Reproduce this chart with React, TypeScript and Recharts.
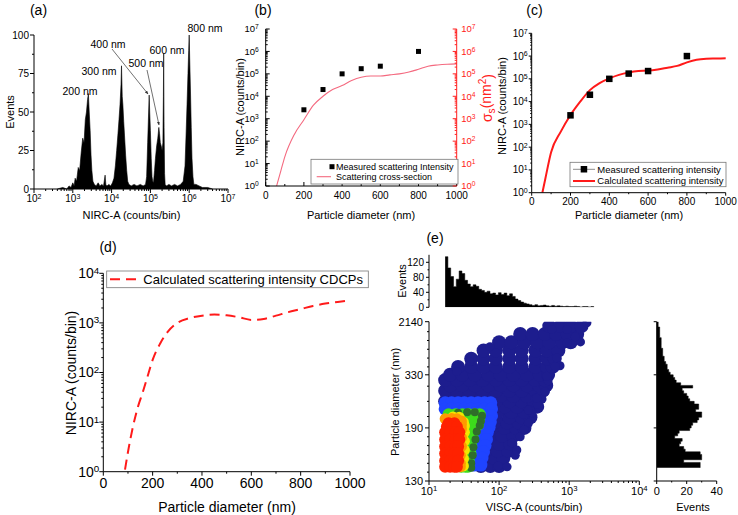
import React from 'react';
import { ComposedChart, Area, Line, Scatter, XAxis, YAxis } from 'recharts';

const FONT = '"Liberation Sans", Arial, Helvetica, sans-serif';

// (a) NIRC-A histogram of the size standards
const nircBins = [400, 550, 700, 800, 900, 1000, 1080, 1150, 1250, 1380, 1500, 1650, 1800, 1950, 2100, 2250, 2400, 2520, 2650, 2800, 2950, 3100, 3300, 3600, 4000, 4500, 5000, 5600, 6200, 6800, 7100, 7600, 8500, 9500, 10500, 11500, 12500, 13500, 14500, 15500, 16500, 17500, 18000, 18800, 19500, 20500, 21500, 23000, 24500, 26000, 28000, 32000, 38000, 45000, 55000, 65000, 75000, 80000, 85000, 90000, 93000, 96000, 100000, 105000, 110000, 115000, 120000, 128000, 135000, 145000, 155000, 165000, 172000, 180000, 190000, 200000, 210000, 216000, 220000, 225000, 232000, 240000, 260000, 300000, 350000, 420000, 500000, 600000, 700000, 780000, 830000, 880000, 930000, 970000, 1000000, 1030000, 1080000, 1130000, 1180000, 1250000, 1320000, 1500000, 1800000, 2200000, 3000000, 4000000];
const nircEvents = [0, 1, 0, 2, 1, 4, 2, 7, 5, 14, 12, 24, 33, 30, 45, 50, 58, 62, 50, 38, 22, 12, 5, 3, 2, 4, 2, 3, 2, 9, 3, 2, 3, 2, 4, 7, 15, 25, 35, 45, 55, 68, 80, 60, 55, 44, 35, 22, 12, 5, 3, 2, 3, 2, 3, 2, 3, 8, 30, 50, 61, 50, 38, 20, 8, 5, 4, 12, 20, 28, 33, 40, 36, 30, 28, 25, 30, 60, 88, 40, 10, 3, 2, 3, 2, 3, 2, 3, 5, 15, 35, 55, 75, 90, 100, 85, 63, 40, 20, 8, 3, 3, 2, 1, 1, 0];
const peakLabels = ['200 nm', '300 nm', '400 nm', '500 nm', '600 nm', '800 nm'];

// (b), (c) measured and calculated scattering
const measuredDiam = [200, 300, 400, 500, 600, 800];
const measuredIntensity = [2500, 20000, 100000, 170000, 220000, 1000000];
const crossDiam = [57, 80, 100, 150, 200, 250, 300, 350, 400, 450, 500, 550, 600, 650, 700, 750, 800, 850, 900, 950, 1000];
const crossSection = [1, 5, 20, 200, 900, 4000, 10000, 20000, 30000, 50000, 70000, 80000, 80000, 90000, 100000, 120000, 160000, 220000, 250000, 270000, 280000];
const calcDiam = [55, 70, 100, 150, 200, 250, 300, 350, 400, 450, 500, 550, 600, 650, 700, 750, 800, 850, 900, 950, 1000];
const calcIntensity = [1, 4, 60, 480, 2600, 10000, 32000, 65000, 105000, 150000, 190000, 220000, 230000, 260000, 310000, 370000, 530000, 690000, 760000, 780000, 800000];

// (d) CDCPs
const cdcpDiam = [88, 100, 120, 140, 160, 180, 200, 230, 260, 300, 350, 400, 450, 500, 550, 600, 650, 700, 750, 800, 850, 900, 950, 1000];
const cdcpIntensity = [1.1, 2.5, 8, 20, 40, 85, 180, 380, 650, 1000, 1250, 1400, 1480, 1420, 1300, 1150, 1200, 1400, 1650, 1900, 2200, 2450, 2650, 2850];

// (e) VISC-A histogram (bin edges, counts)
const viscEdges = [17, 18.6, 20.4, 22.4, 24.5, 26.9, 29.5, 32.4, 35.5, 38.9, 42.7, 46.8, 51.3, 56.2, 61.7, 67.6, 74.1, 81.3, 89.1, 97.7, 107, 118, 129, 141, 155, 170, 186, 204, 224, 245, 269, 295, 324, 355, 389, 427, 468, 513, 562, 617, 676, 741, 813, 891, 977, 1072, 1175, 1288, 1413, 1549, 1698, 1862, 2042, 2239];
const viscEvents = [135, 105, 82, 55, 75, 97, 90, 72, 62, 55, 60, 56, 48, 45, 40, 43, 36, 38, 33, 39, 34, 38, 31, 36, 29, 22, 18, 14, 11, 9, 7, 5, 7, 4, 5, 6, 4, 3, 5, 3, 4, 3, 2, 3, 2, 2, 3, 2, 1, 2, 2, 1, 2];

// (e) diameter axis labels and diameter histogram
const diamTicks = [130, 190, 330, 2140];
const diamMinor = [140, 150, 160, 170, 180, 220, 260, 300, 600, 900, 1200, 1500, 1800];
const diamEdges = [145, 148, 151, 154, 157, 160, 163, 166, 169, 172, 175, 178, 181, 184, 187, 190, 197, 204, 211, 218, 225, 232, 239, 246, 253, 260, 267, 274, 281, 288, 295, 302, 309, 316, 323, 330, 420, 511, 601, 692, 782, 873, 963, 1054, 1144, 1235, 1325, 1416, 1506, 1597, 1687, 1778, 1868, 1959, 2049, 2140];
const diamEvents = [29, 29, 18, 30, 30, 29, 19, 18, 15, 16, 17, 12, 14, 15, 22, 23, 24, 27, 28, 30, 30, 26, 28, 28, 25, 22, 21, 20, 18, 17, 24, 16, 13, 12, 11, 9, 8, 7, 7, 6, 5, 5, 4, 4, 4, 3, 3, 3, 3, 2, 2, 2, 2, 1, 1];

// (e) scatter, density classes: [diameter nm, VISC-A values]
const navyRows: [number, number[]][] = [
  [147, [55, 75, 100]],
  [156, [60, 85, 115]],
  [164, [65, 95, 135]],
  [172, [70, 100, 145]],
  [181, [75, 110, 160]],
  [190, [80, 120, 175, 230]],
  [204, [85, 130, 190]],
  [218, [90, 140, 210, 280]],
  [232, [95, 150, 230]],
  [246, [85, 120, 180, 270, 350]],
  [260, [17, 25, 38, 58, 90, 140, 210, 310]],
  [274, [20, 30, 45, 70, 105, 160, 250, 370]],
  [288, [17, 25, 38, 58, 90, 140, 210, 330, 420]],
  [302, [20, 30, 45, 70, 105, 160, 250, 370, 470]],
  [316, [17, 25, 38, 58, 90, 140, 210, 330, 450]],
  [330, [20, 30, 45, 70, 105, 160, 250, 380, 500]],
  [600, [26, 40, 60, 90, 140, 210, 330, 480, 580]],
  [880, [40, 60, 90, 140, 210, 330, 480, 620]],
  [1160, [60, 90, 140, 210, 330, 480, 700]],
  [1440, [100, 150, 230, 350, 520, 800, 1050]],
  [1720, [200, 300, 450, 650, 950, 1300]],
  [1990, [520, 750, 1050, 1500]],
];
// [VISC-A, diameter nm]
const navySparse: [number, number][] = [
  [1450, 1450], [670, 900], [410, 266], [350, 253], [262, 202], [25, 440], [38, 780], [74, 1290],
  [130, 146], [97, 147], [152, 173], [200, 180], [228, 188], [179, 165], [1790, 2100], [930, 1870],
  [566, 1870], [1220, 1630], [740, 640], [500, 314], [455, 285], [295, 230], [170, 159], [327, 268],
  [277, 237], [630, 614], [480, 326], [930, 1416], [262, 237], [346, 268],
];
const blueRows: [number, number[]][] = [
  [256, [17, 21, 26, 32, 40, 50, 62, 76]],
  [240, [17, 21, 26, 32, 40, 50, 62, 78]],
  [222, [50, 62, 78]],
  [206, [48, 60, 75]],
  [192, [45, 56, 72]],
  [185, [42, 54, 68]],
  [177, [40, 52, 66]],
  [170, [38, 50, 63]],
  [163, [37, 48, 60]],
  [156, [36, 46, 57]],
  [148, [35, 44, 55]],
];
const greenRows: [number, number[]][] = [
  [226, [19, 24, 30, 37, 45, 53]],
  [212, [24, 30, 37, 45, 52]],
  [198, [29, 36, 43, 50]],
  [188, [31, 37, 44]],
  [179, [31, 37, 42]],
  [170, [30, 35, 40]],
  [161, [30, 34, 39]],
  [152, [29, 33, 37]],
  [146, [29, 33, 36]],
];
const darkGreenPts: [number, number][] = [
  [57, 222], [55, 208], [53, 196], [48, 186], [46, 177], [43, 168], [42, 159], [40, 150], [40, 145], [35, 231], [45, 231], [26, 230],
];
const yellowPts: [number, number][] = [
  [31, 205], [32, 195], [32, 185], [32, 175], [32, 165], [31, 155], [31, 147], [22, 219], [27, 218],
];
const orangePts: [number, number][] = [
  [17, 214], [21, 215], [25, 214], [29, 208], [29, 199], [29, 189], [29, 179], [29, 169], [28, 159], [28, 150], [28, 146],
];
const redRows: [number, number[]][] = [
  [202, [19, 23]],
  [193, [18, 21, 25]],
  [185, [17, 20, 24, 27]],
  [177, [17, 20, 24, 27]],
  [169, [17, 20, 24, 26]],
  [161, [17, 20, 23, 26]],
  [153, [17, 20, 23, 26]],
  [146, [17, 20, 23, 25]],
];

// ---------- helpers ----------
const toAxis = (d: number) => {
  for (let i = 0; i < diamTicks.length - 1; i++) {
    if (d <= diamTicks[i + 1]) return i + (d - diamTicks[i]) / (diamTicks[i + 1] - diamTicks[i]);
  }
  return diamTicks.length - 1;
};
const rowsToPts = (rows: [number, number[]][]) => rows.flatMap(([d, xs]) => xs.map((x) => ({ x, y: toAxis(d) })));
const pairsToPts = (pairs: [number, number][]) => pairs.map(([x, d]) => ({ x, y: toAxis(d) }));
const zip = (xs: number[], ys: number[]) => xs.map((x, i) => ({ x, y: ys[i] }));

const logTicks = (lo: number, hi: number) => {
  const t: number[] = [];
  for (let e = lo; e <= hi; e++) {
    t.push(10 ** e);
    if (e < hi) for (let m = 2; m <= 9; m++) t.push(m * 10 ** e);
  }
  return t;
};
const isPow10 = (v: number) => Math.abs(Math.log10(v) - Math.round(Math.log10(v))) < 1e-6;
const pow10 = (v: number) => (
  <>
    10<tspan dy="-0.45em" fontSize="0.7em">{Math.round(Math.log10(v))}</tspan>
  </>
);
const range = (a: number, b: number, s: number) => {
  const r: number[] = [];
  for (let v = a; v <= b + 1e-9; v += s) r.push(v);
  return r;
};

type Side = 'bottom' | 'left' | 'right';
interface TickCfg {
  side: Side;
  isMajor: (v: number) => boolean;
  label?: (v: number) => React.ReactNode;
  major?: number;
  minor?: number;
  inward?: boolean;
  gap?: number;
  size?: number;
  color?: string;
}

function makeTick(c: TickCfg) {
  const { side, isMajor, label, major = 4, minor = 2, inward = false, gap = 4, size = 10, color = '#000' } = c;
  const s = inward ? -1 : 1;
  return (p: any) => {
    const { x, y, payload } = p;
    const v = Number(payload.value);
    const maj = isMajor(v);
    const len = maj ? major : minor;
    const text = maj && label ? label(v) : null;
    if (side === 'bottom') {
      return (
        <g>
          <line x1={x} x2={x} y1={y} y2={y + s * len} stroke={color} strokeWidth={1} />
          {text !== null && (
            <text x={x} y={y + gap} dy="0.72em" textAnchor="middle" fontSize={size} fill={color}>
              {text}
            </text>
          )}
        </g>
      );
    }
    const d = side === 'left' ? -1 : 1;
    return (
      <g>
        <line x1={x} x2={x + d * s * len} y1={y} y2={y} stroke={color} strokeWidth={1} />
        {text !== null && (
          <text x={x + d * gap} y={y} dy="0.35em" textAnchor={side === 'left' ? 'end' : 'start'} fontSize={size} fill={color}>
            {text}
          </text>
        )}
      </g>
    );
  };
}

const AX = { stroke: '#000', strokeWidth: 1 };
const RED_AX = '#ff2020';
const PINK = '#f4697f';
const CURVE_RED = '#ff1a1a';
const tickBase = { interval: 0 as const, tickSize: 0, tickMargin: 0, tickLine: false };

const squareShape = (size: number) => (p: any) => (
  <rect x={p.cx - size / 2} y={p.cy - size / 2} width={size} height={size} fill="#000" />
);
const dotShape = (r: number, fill: string) => (p: any) => <circle cx={p.cx} cy={p.cy} r={r} fill={fill} />;

const nircData = zip(nircBins, nircEvents);
const measuredData = zip(measuredDiam, measuredIntensity);
const crossData = zip(crossDiam, crossSection);
const calcData = zip(calcDiam, calcIntensity);
const cdcpData = zip(cdcpDiam, cdcpIntensity);
const viscHist = viscEdges.map((x, i) => ({ x, n: i < viscEvents.length ? viscEvents[i] : 0 }));
const diamHist = diamEdges.map((d, i) => ({ u: toAxis(d), n: i < diamEvents.length ? diamEvents[i] : 0 }));
const diamAxisTicks = [0, 1, 2, 3, ...diamMinor.map(toAxis)].sort((a, b) => a - b);
const isInt = (v: number) => Math.abs(v - Math.round(v)) < 1e-9;

// ---------- panels ----------
function PanelA() {
  return (
    <div style={{ position: 'absolute', left: 0, top: 0 }}>
      <ComposedChart width={240} height={225} data={nircData} margin={{ top: 35, right: 12, bottom: 0, left: 0 }}>
        <XAxis dataKey="x" type="number" scale="log" domain={[100, 1e7]} allowDataOverflow ticks={logTicks(2, 7)} height={36} {...tickBase}
          axisLine={AX} tick={makeTick({ side: 'bottom', isMajor: isPow10, label: pow10, gap: 6 })} />
        <YAxis type="number" domain={[0, 100]} ticks={range(0, 100, 12.5)} width={34} {...tickBase}
          axisLine={AX} tick={makeTick({ side: 'left', isMajor: (v) => v % 25 === 0, label: (v) => v, gap: 5 })} />
        <Area type="linear" dataKey="y" stroke="#000" strokeWidth={0.6} fill="#000" fillOpacity={1} dot={false} activeDot={false} isAnimationActive={false} />
      </ComposedChart>
    </div>
  );
}

function PanelB() {
  return (
    <div style={{ position: 'absolute', left: 230, top: 0 }}>
      <ComposedChart width={270} height={225} margin={{ top: 29, right: 0, bottom: 0, left: 0 }}>
        <XAxis dataKey="x" type="number" domain={[0, 1000]} ticks={range(0, 1000, 100)} height={39} {...tickBase}
          axisLine={AX} tick={makeTick({ side: 'bottom', isMajor: (v) => v % 200 === 0, label: (v) => v, inward: true, gap: 6 })} />
        <YAxis yAxisId="l" dataKey="y" type="number" scale="log" domain={[1, 1e7]} allowDataOverflow ticks={logTicks(0, 7)} width={35.7} {...tickBase}
          axisLine={AX} tick={makeTick({ side: 'left', isMajor: isPow10, label: pow10, inward: true, gap: 7, size: 9.5 })} />
        <YAxis yAxisId="r" orientation="right" dataKey="y" type="number" scale="log" domain={[1, 1e7]} allowDataOverflow ticks={logTicks(0, 7)} width={43.3} {...tickBase}
          axisLine={{ stroke: RED_AX }} tick={makeTick({ side: 'right', isMajor: isPow10, label: pow10, inward: true, gap: 4.5, size: 9.5, color: RED_AX })} />
        <Line yAxisId="r" data={crossData} dataKey="y" type="monotone" stroke={PINK} strokeWidth={1.1} dot={false} activeDot={false} isAnimationActive={false} />
        <Scatter yAxisId="l" data={measuredData} shape={squareShape(5)} isAnimationActive={false} />
      </ComposedChart>
    </div>
  );
}

function PanelC() {
  return (
    <div style={{ position: 'absolute', left: 500, top: 0 }}>
      <ComposedChart width={238} height={225} margin={{ top: 33.3, right: 12.3, bottom: 0, left: 0 }}>
        <XAxis dataKey="x" type="number" domain={[0, 1000]} ticks={range(0, 1000, 100)} height={32.3} {...tickBase}
          axisLine={AX} tick={makeTick({ side: 'bottom', isMajor: (v) => v % 200 === 0, label: (v) => v, major: 3, minor: 1.5, gap: 5 })} />
        <YAxis dataKey="y" type="number" scale="log" domain={[1, 1e7]} allowDataOverflow ticks={logTicks(0, 7)} width={31.7} {...tickBase}
          axisLine={AX} tick={makeTick({ side: 'left', isMajor: isPow10, label: pow10, major: 3, minor: 1.5, gap: 4 })} />
        <Line data={calcData} dataKey="y" type="monotone" stroke={CURVE_RED} strokeWidth={2} dot={false} activeDot={false} isAnimationActive={false} />
        <Scatter data={measuredData} shape={squareShape(6.5)} isAnimationActive={false} />
      </ComposedChart>
    </div>
  );
}

function PanelD() {
  return (
    <div style={{ position: 'absolute', left: 0, top: 230 }}>
      <ComposedChart width={370} height={285} margin={{ top: 43.3, right: 20, bottom: 0, left: 0 }}>
        <XAxis dataKey="x" type="number" domain={[0, 1000]} ticks={range(0, 1000, 100)} height={43.3} {...tickBase}
          axisLine={AX} tick={makeTick({ side: 'bottom', isMajor: (v) => v % 200 === 0, label: (v) => v, gap: 6, size: 14 })} />
        <YAxis dataKey="y" type="number" scale="log" domain={[1, 1e4]} allowDataOverflow ticks={logTicks(0, 4)} width={103.3} {...tickBase}
          axisLine={AX} tick={makeTick({ side: 'left', isMajor: isPow10, label: pow10, gap: 4, size: 14 })} />
        <Line data={cdcpData} dataKey="y" type="monotone" stroke={CURVE_RED} strokeWidth={2} strokeDasharray="10 6" dot={false} activeDot={false} isAnimationActive={false} />
      </ComposedChart>
    </div>
  );
}

function PanelE() {
  return (
    <>
      <div style={{ position: 'absolute', left: 380, top: 245 }}>
        <ComposedChart width={270} height={70} data={viscHist} margin={{ top: 9.8, right: 10.7, bottom: 7.7, left: 0 }}>
          <XAxis dataKey="x" type="number" scale="log" domain={[10, 1e4]} allowDataOverflow height={0} tick={false} tickLine={false} axisLine={AX} />
          <XAxis xAxisId="top" orientation="top" type="number" domain={[0, 1]} height={0} tick={false} tickLine={false} axisLine={AX} />
          <YAxis type="number" domain={[0, 140]} allowDataOverflow ticks={range(0, 120, 20)} width={49} {...tickBase}
            axisLine={AX} tick={makeTick({ side: 'left', isMajor: (v) => v % 40 === 0, label: (v) => v, major: 3, minor: 1.5, gap: 5 })} />
          <YAxis yAxisId="right" orientation="right" type="number" domain={[0, 1]} width={0} tick={false} tickLine={false} axisLine={AX} />
          <Area type="stepAfter" dataKey="n" stroke="#000" strokeWidth={0.5} fill="#000" fillOpacity={1} dot={false} activeDot={false} isAnimationActive={false} />
        </ComposedChart>
      </div>
      <div style={{ position: 'absolute', left: 380, top: 310 }}>
        <ComposedChart width={270} height={205} margin={{ top: 11.7, right: 10.7, bottom: 0, left: 0 }}>
          <XAxis dataKey="x" type="number" scale="log" domain={[10, 1e4]} allowDataOverflow ticks={logTicks(1, 4)} height={34} {...tickBase}
            axisLine={AX} tick={makeTick({ side: 'bottom', isMajor: isPow10, label: pow10, gap: 6, size: 11 })} />
          <XAxis xAxisId="top" orientation="top" type="number" domain={[0, 1]} height={0} tick={false} tickLine={false} axisLine={AX} />
          <YAxis dataKey="y" type="number" domain={[0, 3]} allowDataOverflow ticks={diamAxisTicks} width={49} {...tickBase}
            axisLine={AX} tick={makeTick({ side: 'left', isMajor: isInt, label: (v) => diamTicks[Math.round(v)], gap: 6, size: 11 })} />
          <YAxis yAxisId="right" orientation="right" type="number" domain={[0, 1]} width={0} tick={false} tickLine={false} axisLine={AX} />
          <Scatter data={rowsToPts(navyRows)} shape={dotShape(7, '#1d1d8e')} isAnimationActive={false} />
          <Scatter data={pairsToPts(navySparse)} shape={dotShape(4.5, '#1d1d8e')} isAnimationActive={false} />
          <Scatter data={rowsToPts(blueRows)} shape={dotShape(6.5, '#1f44ff')} isAnimationActive={false} />
          <Scatter data={rowsToPts(greenRows)} shape={dotShape(6, '#3ddc1c')} isAnimationActive={false} />
          <Scatter data={pairsToPts(darkGreenPts)} shape={dotShape(4, '#2f6e2a')} isAnimationActive={false} />
          <Scatter data={pairsToPts(yellowPts)} shape={dotShape(5.5, '#f2e600')} isAnimationActive={false} />
          <Scatter data={pairsToPts(orangePts)} shape={dotShape(5.5, '#ff9a00')} isAnimationActive={false} />
          <Scatter data={rowsToPts(redRows)} shape={dotShape(6, '#ff2200')} isAnimationActive={false} />
        </ComposedChart>
      </div>
      <div style={{ position: 'absolute', left: 650, top: 310 }}>
        <ComposedChart layout="vertical" width={88} height={205} data={diamHist} margin={{ top: 11.7, right: 21.3, bottom: 0, left: 0 }}>
          <XAxis type="number" domain={[0, 40]} allowDataOverflow ticks={range(0, 40, 10)} height={34} {...tickBase}
            axisLine={AX} tick={makeTick({ side: 'bottom', isMajor: (v) => v % 20 === 0, label: (v) => v, major: 3, minor: 1.5, gap: 6, size: 11 })} />
          <YAxis dataKey="u" type="number" domain={[0, 3]} reversed allowDataOverflow ticks={[0, 1, 2, 3]} width={6.7} {...tickBase}
            axisLine={AX} tick={makeTick({ side: 'left', isMajor: () => true, major: 3 })} />
          <Area type="stepBefore" dataKey="n" stroke="#000" strokeWidth={0.5} fill="#000" fillOpacity={1} dot={false} activeDot={false} isAnimationActive={false} />
        </ComposedChart>
      </div>
    </>
  );
}

// ---------- texts, legends, annotations ----------
const peakLabelPos: [number, number][] = [[80, 91], [99, 71], [108, 44], [146, 63], [167, 50], [205, 28]];

const HText = ({ x, y, size = 11, fill = '#000', anchor = 'middle', children }: any) => (
  <text x={x} y={y} dy="0.35em" textAnchor={anchor} fontSize={size} fill={fill}>{children}</text>
);
const VText = ({ x, y, size = 11, fill = '#000', children }: any) => (
  <text transform={`translate(${x},${y}) rotate(-90)`} dy="0.35em" textAnchor="middle" fontSize={size} fill={fill}>{children}</text>
);

function Overlay() {
  return (
    <svg width={738} height={515} style={{ position: 'absolute', left: 0, top: 0, pointerEvents: 'none' }}>
      <defs>
        <marker id="arrowHead" viewBox="0 0 6 6" refX="5.5" refY="3" markerWidth="5" markerHeight="5" orient="auto">
          <path d="M0,0.5 L6,3 L0,5.5 z" fill="#333" />
        </marker>
      </defs>

      <HText x={38.5} y={10} size={14}>(a)</HText>
      <HText x={263} y={10} size={14}>(b)</HText>
      <HText x={534.5} y={10} size={14}>(c)</HText>
      <HText x={108} y={247} size={14}>(d)</HText>
      <HText x={435} y={238} size={14}>(e)</HText>

      {/* (a) */}
      <HText x={131.5} y={215}>NIRC-A (counts/bin)</HText>
      <VText x={10} y={112}>Events</VText>
      {peakLabels.map((t, i) => (
        <HText key={t} x={peakLabelPos[i][0]} y={peakLabelPos[i][1]} size={10.5}>{t}</HText>
      ))}
      <line x1={112} y1={49} x2={148} y2={94} stroke="#333" strokeWidth={0.7} markerEnd="url(#arrowHead)" />
      <line x1={147} y1={70} x2={159} y2={125} stroke="#333" strokeWidth={0.7} markerEnd="url(#arrowHead)" />

      {/* (b) */}
      <HText x={361} y={215}>Particle diameter (nm)</HText>
      <VText x={240} y={107}>NIRC-A (counts/bin)</VText>
      <VText x={487} y={98} size={14} fill={RED_AX}>
        σ<tspan dy="0.3em" fontSize="0.72em">s</tspan>
        <tspan dy="-0.3em">(nm</tspan>
        <tspan dy="-0.45em" fontSize="0.72em">2</tspan>
        <tspan dy="0.45em">)</tspan>
      </VText>
      <rect x={311} y={159.3} width={147} height={24.7} fill="#fff" stroke="#777" strokeWidth={0.8} />
      <rect x={329.5} y={164.2} width={5} height={5} fill="#000" />
      <HText x={336} y={166.7} size={9} anchor="start">Measured scattering Intensity</HText>
      <line x1={316.7} x2={331} y1={176.7} y2={176.7} stroke={PINK} strokeWidth={1.1} />
      <HText x={336} y={176.7} size={9} anchor="start">Scattering cross-section</HText>

      {/* (c) */}
      <HText x={629} y={215}>Particle diameter (nm)</HText>
      <VText x={502} y={106}>NIRC-A (counts/bin)</VText>
      <rect x={570} y={162.3} width={156} height={24.4} fill="#fff" stroke="#777" strokeWidth={0.8} />
      <line x1={573} x2={595} y1={169.3} y2={169.3} stroke="#8c8c8c" strokeWidth={1} />
      <rect x={580.7} y={166} width={6.5} height={6.5} fill="#000" />
      <HText x={597.3} y={169.3} size={9.5} anchor="start">Measured scattering intensity</HText>
      <line x1={573} x2={595} y1={181} y2={181} stroke={CURVE_RED} strokeWidth={2} />
      <HText x={597.3} y={181} size={9.5} anchor="start">Calculated scattering intensity</HText>

      {/* (d) */}
      <HText x={227} y={507} size={14}>Particle diameter (nm)</HText>
      <VText x={71} y={373} size={14}>NIRC-A (counts/bin)</VText>
      <rect x={106.7} y={271} width={261.6} height={16.7} fill="#fff" stroke="#777" strokeWidth={0.8} />
      <line x1={110} x2={137} y1={279.3} y2={279.3} stroke={CURVE_RED} strokeWidth={2} strokeDasharray="10 6" />
      <HText x={143.3} y={279.3} size={13} anchor="start">Calculated scattering intensity CDCPs</HText>

      {/* (e) */}
      <VText x={402} y={281}>Events</VText>
      <VText x={395} y={402}>Particle diameter (nm)</VText>
      <HText x={534} y={507}>VISC-A (counts/bin)</HText>
      <HText x={693} y={507}>Events</HText>
    </svg>
  );
}

export default function App() {
  return (
    <div style={{ position: 'absolute', left: 0, top: 0, width: 738, height: 515, background: '#fff', fontFamily: FONT, overflow: 'hidden' }}>
      <PanelA />
      <PanelB />
      <PanelC />
      <PanelD />
      <PanelE />
      <Overlay />
    </div>
  );
}
